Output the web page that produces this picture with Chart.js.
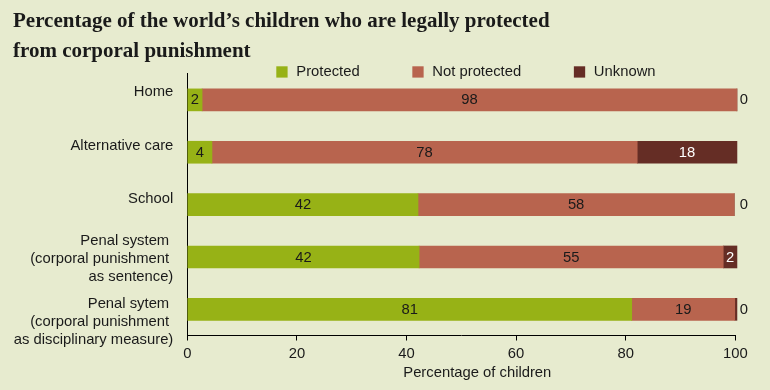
<!DOCTYPE html>
<html>
<head>
<meta charset="utf-8">
<script src="https://cdn.jsdelivr.net/npm/chart.js@4"></script>
<style>
html,body{margin:0;padding:0;background:#E7EBCF;}
#wrap{width:770px;height:390px;}
canvas{display:block;}
</style>
</head>
<body>
<div id="wrap"><canvas id="c" width="770" height="390"></canvas></div>
<script>
// ---- data ----
const titleLines = ["Percentage of the world\u2019s children who are legally protected", "from corporal punishment"];
const categories = [
  ["Home"],
  ["Alternative care"],
  ["School"],
  ["Penal system ", "(corporal punishment ", "as sentence)"],
  ["Penal sytem ", "(corporal punishment ", "as disciplinary measure)"]
];
const seriesNames = ["Protected", "Not protected", "Unknown"];
const protectedVals    = [2.7, 4.5, 42.1, 42.3, 81.1];
const notProtectedVals = [97.6, 77.6, 57.7, 55.5, 18.8];
const unknownVals      = [0, 18.2, 0, 2.5, 0.4];
const protectedLabels    = [2, 4, 42, 42, 81];
const notProtectedLabels = [98, 78, 58, 55, 19];
const unknownLabels      = [0, 18, 0, 2, 0];
const xTickValues = [0, 20, 40, 60, 80, 100];
const xAxisTitle = "Percentage of children";

// ---- styles ----
const BG = '#E7EBCF';
const COLORS = ['#97B216', '#B8644E', '#652D25'];
const TEXT = '#1a1a1a';
const SANS = '"Liberation Sans", Arial, Helvetica, sans-serif';
const FS = 14.8;
const CAT_LABEL_SHIFT = [-8, -6, -6, 2, 12.3];   // vertical placement of category labels (px)
const CAT_LINE_H = 17.8;
const printed = [protectedLabels, notProtectedLabels, unknownLabels];

const bgPlugin = {
  id: 'bg',
  beforeDraw(chart) {
    const ctx = chart.ctx;
    ctx.save();
    ctx.fillStyle = BG;
    ctx.fillRect(0, 0, chart.width, chart.height);
    ctx.restore();
  }
};

const catLabels = {
  id: 'catLabels',
  afterDraw(chart) {
    const ctx = chart.ctx, ys = chart.scales.y, ca = chart.chartArea;
    ctx.save();
    ctx.font = FS + 'px ' + SANS;
    ctx.textBaseline = 'middle';
    ctx.textAlign = 'right';
    ctx.fillStyle = TEXT;
    chart.data.labels.forEach((lines, i) => {
      const cy = ys.getPixelForValue(i) + CAT_LABEL_SHIFT[i];
      const n = lines.length;
      lines.forEach((ln, k) => {
        ctx.fillText(ln, ca.left - 14, cy + (k - (n - 1) / 2) * CAT_LINE_H);
      });
    });
    ctx.restore();
  }
};

const valueLabels = {
  id: 'valueLabels',
  afterDatasetsDraw(chart) {
    const ctx = chart.ctx, xs = chart.scales.x;
    ctx.save();
    ctx.font = FS + 'px ' + SANS;
    ctx.textBaseline = 'middle';
    chart.data.datasets.forEach((ds, di) => {
      const meta = chart.getDatasetMeta(di);
      meta.data.forEach((bar, i) => {
        const v = printed[di][i];
        if (v === 0) {
          if (di === 2) {
            ctx.textAlign = 'left';
            ctx.fillStyle = TEXT;
            ctx.fillText('0', xs.getPixelForValue(100) + 4.5, bar.y + 0.5);
          }
          return;
        }
        ctx.textAlign = 'center';
        ctx.fillStyle = di === 2 ? '#ffffff' : TEXT;
        ctx.fillText(String(v), (bar.x + bar.base) / 2, bar.y + 0.5);
      });
    });
    ctx.restore();
  }
};

const legendPlugin = {
  id: 'customLegend',
  afterDraw(chart) {
    const ctx = chart.ctx, ca = chart.chartArea;
    ctx.save();
    ctx.font = FS + 'px ' + SANS;
    ctx.textBaseline = 'middle';
    ctx.textAlign = 'left';
    let x = ca.left + 89;
    const y = ca.top - 1.7;
    chart.data.datasets.forEach(ds => {
      ctx.fillStyle = ds.backgroundColor;
      ctx.fillRect(x, y - 5.7, 11.3, 11.3);
      ctx.fillStyle = TEXT;
      ctx.fillText(ds.label, x + 20, y);
      x += 20 + ctx.measureText(ds.label).width + 52.7;
    });
    ctx.restore();
  }
};

const axisTitlePlugin = {
  id: 'axisTitle',
  afterDraw(chart) {
    const ctx = chart.ctx, ca = chart.chartArea;
    ctx.save();
    ctx.font = FS + 'px ' + SANS;
    ctx.textBaseline = 'middle';
    ctx.textAlign = 'center';
    ctx.fillStyle = TEXT;
    ctx.fillText(xAxisTitle, ca.left + 290, ca.bottom + 37);
    ctx.restore();
  }
};

new Chart(document.getElementById('c'), {
  type: 'bar',
  data: {
    labels: categories,
    datasets: [
      { label: seriesNames[0], data: protectedVals, backgroundColor: COLORS[0] },
      { label: seriesNames[1], data: notProtectedVals, backgroundColor: COLORS[1] },
      { label: seriesNames[2], data: unknownVals, backgroundColor: COLORS[2] }
    ]
  },
  options: {
    indexAxis: 'y',
    responsive: false,
    animation: false,
    devicePixelRatio: 1,
    layout: { padding: { left: 13, right: 34.7, top: 0, bottom: 29 } },
    datasets: { bar: { barThickness: 22, borderWidth: 0, clip: false } },
    plugins: {
      legend: { display: false },
      tooltip: { enabled: false },
      title: {
        display: true,
        text: titleLines,
        align: 'start',
        color: TEXT,
        font: { family: '"Liberation Serif", "Times New Roman", serif', size: 21, weight: 'bold', lineHeight: 30/21 },
        padding: { top: 6.5, bottom: 7.2 }
      }
    },
    scales: {
      x: {
        stacked: true,
        min: 0, max: 100,
        afterBuildTicks(scale) { scale.ticks = xTickValues.map(v => ({ value: v })); },
        afterFit(scale) { scale.height = 25.5; },
        grid: { display: true, drawOnChartArea: false, drawTicks: true, tickLength: 5, color: '#000', lineWidth: 1 },
        border: { display: true, color: '#000', width: 1 },
        ticks: { color: TEXT, font: { family: SANS, size: FS }, padding: 5, maxRotation: 0, autoSkip: false }
      },
      y: {
        stacked: true,
        afterFit(scale) { scale.width = 174.3; },
        grid: { display: false, drawTicks: false },
        border: { display: true, color: '#000', width: 1 },
        ticks: { display: false, autoSkip: false }
      }
    }
  },
  plugins: [bgPlugin, catLabels, valueLabels, legendPlugin, axisTitlePlugin]
});
</script>
</body>
</html>
